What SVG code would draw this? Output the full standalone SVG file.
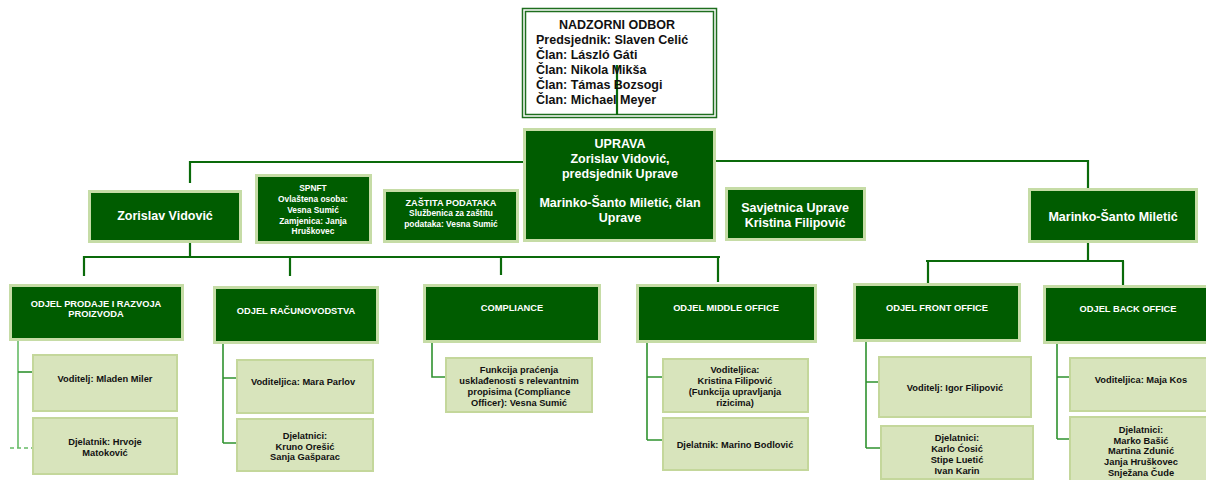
<svg xmlns="http://www.w3.org/2000/svg" width="1206" height="480" viewBox="0 0 1206 480">
<style>
text{font-family:"Liberation Sans",Arial,sans-serif;font-weight:bold;text-anchor:middle}
.dk{fill:#005c00;stroke:#c6dca6;stroke-width:3}
.lt{fill:#d8e4bc;stroke:#c4d79b;stroke-width:2}
.w{fill:#ffffff}
.b{fill:#111111}
.c1{fill:none;stroke:#0a6a0a;stroke-width:2.2}
.c2{fill:none;stroke:#2f922f;stroke-width:1.6}
.t125{font-size:12.5px}
.t93{font-size:9.3px}
.t9{font-size:9.2px}
.t83{font-size:8.4px}
</style>
<rect width="1206" height="480" fill="#ffffff"/>
<g id="connectors">
<path class="c1" d="M617 65V115"/>
<path class="c1" d="M190 183V162H523"/>
<path class="c1" d="M716 161H1088V188"/>
<path class="c1" d="M190 243V257M84 276V257H720M290 257V276M501 257V275M718 257V282"/>
<path class="c1" d="M1088 243V261M926 261H1124M928 261V283M1123 261V285"/>
<path fill="none" stroke="#66bb66" stroke-width="1.6" d="M18 341V448"/>
<path class="c2" d="M18 372H32"/>
<path fill="none" stroke="#66bb66" stroke-width="1.6" stroke-dasharray="4,3" d="M10 448H32"/>
<path class="c2" d="M223 344V443M223 378H236M223 443H236"/>
<path class="c2" d="M432 343V377H445"/>
<path class="c2" d="M647 343V440M647 377H662M647 440H662"/>
<path class="c2" d="M866 342V448M866 382H878M866 448H880"/>
<path class="c2" d="M1057 342V439M1057 377H1069M1057 439H1069"/>
</g>
<g id="nadzorni">
<rect x="522.5" y="8.5" width="194" height="109" fill="#ffffff" stroke="#1e6e1e" stroke-width="1.5"/>
<rect x="525.5" y="11.5" width="188" height="103" fill="none" stroke="#1e6e1e" stroke-width="1.5"/>
<path class="c1" d="M617 65V115"/>
<text class="b t125" x="617" y="29">NADZORNI ODBOR</text>
<text class="b t125" style="text-anchor:start" x="536" y="44">Predsjednik: Slaven Celić</text>
<text class="b t125" style="text-anchor:start" x="536" y="59">Član: László Gáti</text>
<text class="b t125" style="text-anchor:start" x="536" y="74">Član: Nikola Mikša</text>
<text class="b t125" style="text-anchor:start" x="536" y="89">Član: Támas Bozsogi</text>
<text class="b t125" style="text-anchor:start" x="536" y="104">Član: Michael Meyer</text>
</g>
<g id="uprava">
<rect class="dk" x="524.5" y="129.5" width="190" height="111"/>
<text class="w t125" x="620" y="148">UPRAVA</text>
<text class="w t125" x="620" y="163">Zorislav Vidović,</text>
<text class="w t125" x="620" y="178">predsjednik Uprave</text>
<text class="w t125" x="620" y="207">Marinko-Šanto Miletić, član</text>
<text class="w t125" x="620" y="222">Uprave</text>
</g>
<g id="zorislav">
<rect class="dk" x="89.5" y="191.5" width="151" height="50"/>
<text class="w t125" x="165" y="220">Zorislav Vidović</text>
</g>
<g id="spnft">
<rect class="dk" x="256.5" y="175.5" width="114" height="67"/>
<text class="w t83" x="313" y="191">SPNFT</text>
<text class="w t83" x="313" y="201.5">Ovlaštena osoba:</text>
<text class="w t83" x="313" y="212.5">Vesna Sumić</text>
<text class="w t83" x="313" y="223.5">Zamjenica: Janja</text>
<text class="w t83" x="313" y="234">Hruškovec</text>
</g>
<g id="zastita">
<rect class="dk" x="384.5" y="190.5" width="133" height="51"/>
<text class="w t9" x="451" y="205.5">ZAŠTITA PODATAKA</text>
<text class="w t83" x="451" y="216">Službenica za zaštitu</text>
<text class="w t83" x="451" y="226.5">podataka: Vesna Sumić</text>
</g>
<g id="savjetnica">
<rect class="dk" x="726.5" y="188.5" width="138" height="51"/>
<text class="w t125" x="795" y="212">Savjetnica Uprave</text>
<text class="w t125" x="795" y="227">Kristina Filipović</text>
</g>
<g id="marinko">
<rect class="dk" x="1029.5" y="189.5" width="167" height="52"/>
<text class="w t125" x="1113" y="221">Marinko-Šanto Miletić</text>
</g>
<g id="odjel-prodaje">
<rect class="dk" x="10.5" y="285.5" width="172" height="54"/>
<text class="w t93" x="96" y="306.5">ODJEL PRODAJE I RAZVOJA</text>
<text class="w t93" x="96" y="317">PROIZVODA</text>
</g>
<g id="odjel-racunovodstva">
<rect class="dk" x="214.5" y="287.5" width="163" height="55"/>
<text class="w t93" x="296" y="313.5">ODJEL RAČUNOVODSTVA</text>
</g>
<g id="compliance">
<rect class="dk" x="424.5" y="285.5" width="175" height="56"/>
<text class="w t93" x="512" y="310.5">COMPLIANCE</text>
</g>
<g id="middle-office">
<rect class="dk" x="637.5" y="285.5" width="178" height="56"/>
<text class="w t93" x="726" y="310.5">ODJEL MIDDLE OFFICE</text>
</g>
<g id="front-office">
<rect class="dk" x="854.5" y="284.5" width="165" height="56"/>
<text class="w t93" x="937" y="310.5">ODJEL FRONT OFFICE</text>
</g>
<g id="back-office">
<rect class="dk" x="1044.5" y="286.5" width="170" height="56"/>
<text class="w t93" x="1128" y="311.5">ODJEL BACK OFFICE</text>
</g>
<g id="prodaje-voditelj">
<rect class="lt" x="33" y="355" width="144" height="56"/>
<text class="b t93" x="105" y="381.5">Voditelj: Mladen Miler</text>
</g>
<g id="prodaje-djelatnik">
<rect class="lt" x="33" y="418" width="144" height="56"/>
<text class="b t93" x="105" y="444.5">Djelatnik: Hrvoje</text>
<text class="b t93" x="105" y="455.5">Matoković</text>
</g>
<g id="racunovodstvo-voditeljica">
<rect class="lt" x="237" y="360" width="136" height="53"/>
<text class="b t93" x="303" y="384.5">Voditeljica: Mara Parlov</text>
</g>
<g id="racunovodstvo-djelatnici">
<rect class="lt" x="237" y="419" width="136" height="52"/>
<text class="b t93" x="305" y="438.5">Djelatnici:</text>
<text class="b t93" x="305" y="449.5">Kruno Orešić</text>
<text class="b t93" x="305" y="460">Sanja Gašparac</text>
</g>
<g id="compliance-officer">
<rect class="lt" x="446" y="358" width="146" height="54"/>
<text class="b t93" x="519" y="372.5">Funkcija praćenja</text>
<text class="b t93" x="519" y="384">usklađenosti s relevantnim</text>
<text class="b t93" x="519" y="395">propisima (Compliance</text>
<text class="b t93" x="519" y="405.5">Officer):  Vesna Sumić</text>
</g>
<g id="middle-voditeljica">
<rect class="lt" x="663" y="359" width="145" height="53"/>
<text class="b t93" x="735" y="372.5">Voditeljica:</text>
<text class="b t93" x="735" y="384">Kristina Filipović</text>
<text class="b t93" x="735" y="395">(Funkcija upravljanja</text>
<text class="b t93" x="735" y="406">rizicima)</text>
</g>
<g id="middle-djelatnik">
<rect class="lt" x="663" y="418" width="145" height="52"/>
<text class="b t93" x="735" y="447.5">Djelatnik: Marino Bodlović</text>
</g>
<g id="front-voditelj">
<rect class="lt" x="879" y="357" width="152" height="60"/>
<text class="b t93" x="955" y="390.5">Voditelj: Igor Filipović</text>
</g>
<g id="front-djelatnici">
<rect class="lt" x="881" y="426" width="152" height="53"/>
<text class="b t93" x="957" y="440.5">Djelatnici:</text>
<text class="b t93" x="957" y="452">Karlo Ćosić</text>
<text class="b t93" x="957" y="462.5">Stipe Luetić</text>
<text class="b t93" x="957" y="473.5">Ivan Karin</text>
</g>
<g id="back-voditeljica">
<rect class="lt" x="1070" y="358" width="145" height="53"/>
<text class="b t93" x="1141" y="382.5">Voditeljica: Maja Kos</text>
</g>
<g id="back-djelatnici">
<rect class="lt" x="1070" y="417" width="145" height="66"/>
<text class="b t93" x="1141" y="432.5">Djelatnici:</text>
<text class="b t93" x="1141" y="443.5">Marko Bašić</text>
<text class="b t93" x="1141" y="454">Martina Zdunić</text>
<text class="b t93" x="1141" y="464.5">Janja Hruškovec</text>
<text class="b t93" x="1141" y="475.5">Snježana Čude</text>
</g>
</svg>
